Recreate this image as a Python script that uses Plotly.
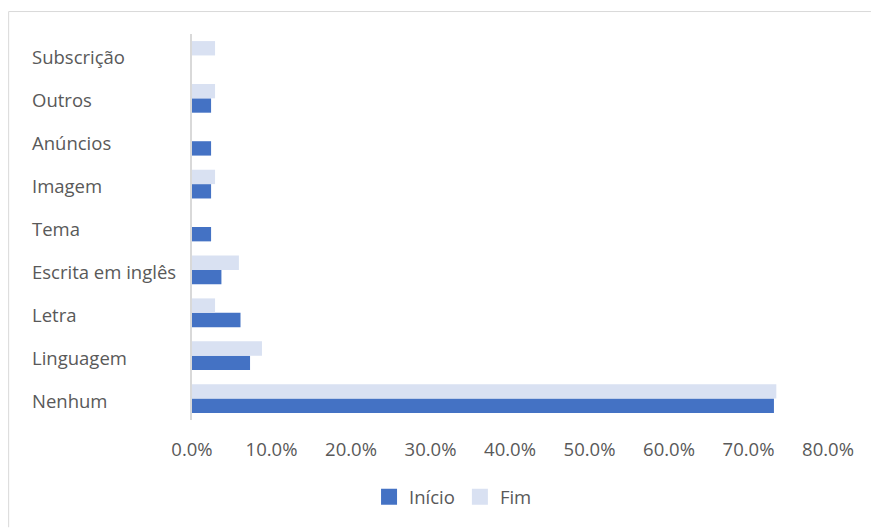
import plotly.graph_objects as go

# Categories listed bottom to top
categorias = ["Nenhum", "Linguagem", "Letra", "Escrita em inglês", "Tema",
              "Imagem", "Anúncios", "Outros", "Subscrição"]
inicio = [0.732, 0.073, 0.061, 0.037, 0.024, 0.024, 0.024, 0.024, 0.0]
fim = [0.735, 0.088, 0.029, 0.059, 0.0, 0.029, 0.0, 0.029, 0.029]
x_ticks = [0.0, 0.1, 0.2, 0.3, 0.4, 0.5, 0.6, 0.7, 0.8]

FONT = "Open Sans"
TXT = "#595959"
FS = 18.5
C_INICIO = "#4472C4"
C_FIM = "#D9E1F2"

W, H = 871, 528
L, R, T, B = 191.5, 43, 33.5, 107.5
PW, PH = W - L - R, H - T - B


def px_x(px):
    return (px - L) / PW


def px_y(py):
    return (H - B - py) / PH


fig = go.Figure()
fig.add_trace(go.Bar(y=categorias, x=inicio, orientation="h", name="Início",
                     marker=dict(color=C_INICIO, line=dict(width=0)),
                     showlegend=False))
fig.add_trace(go.Bar(y=categorias, x=fim, orientation="h", name="Fim",
                     marker=dict(color=C_FIM, line=dict(width=0)),
                     showlegend=False))

# Legend entries with square swatches
for nome, cor in [("Início", C_INICIO), ("Fim", C_FIM)]:
    fig.add_trace(go.Scatter(x=[None], y=[None], mode="markers", name=nome,
                             marker=dict(symbol="square", size=16, color=cor)))

# Left-aligned category labels
for c in categorias:
    fig.add_annotation(x=px_x(29), xref="paper", y=c, yref="y", text=c,
                       showarrow=False, xanchor="left", yanchor="middle",
                       yshift=-1.5,
                       font=dict(family=FONT, size=FS, color=TXT))

# Chart frame: top and left edges
fig.add_shape(type="line", xref="paper", yref="paper",
              x0=px_x(8), x1=px_x(871), y0=px_y(11), y1=px_y(11),
              line=dict(color="#D9D9D9", width=1))
fig.add_shape(type="line", xref="paper", yref="paper",
              x0=px_x(8), x1=px_x(8), y0=px_y(11), y1=px_y(528),
              line=dict(color="#D9D9D9", width=1))

fig.update_layout(
    width=W, height=H,
    margin=dict(l=L, r=R, t=T, b=B, pad=0),
    paper_bgcolor="white", plot_bgcolor="white",
    barmode="group", bargap=0.33, bargroupgap=0,
    font=dict(family=FONT, size=FS, color=TXT),
    showlegend=True,
    legend=dict(orientation="h", x=0.5 - 57 / PW, xanchor="center",
                y=px_y(498), yanchor="middle", traceorder="normal",
                font=dict(family=FONT, size=FS, color=TXT),
                itemwidth=30, tracegroupgap=0),
    xaxis=dict(range=[0, 0.8], tickvals=x_ticks, tickformat=".1%",
               showgrid=False, zeroline=False, showline=False,
               ticks="", ticklabelstandoff=16),
    yaxis=dict(categoryorder="array", categoryarray=categorias,
               showticklabels=False, showgrid=False, zeroline=False,
               showline=True, linecolor="#D9D9D9", linewidth=1.5, ticks=""),
)

fig.write_html("out.html")
